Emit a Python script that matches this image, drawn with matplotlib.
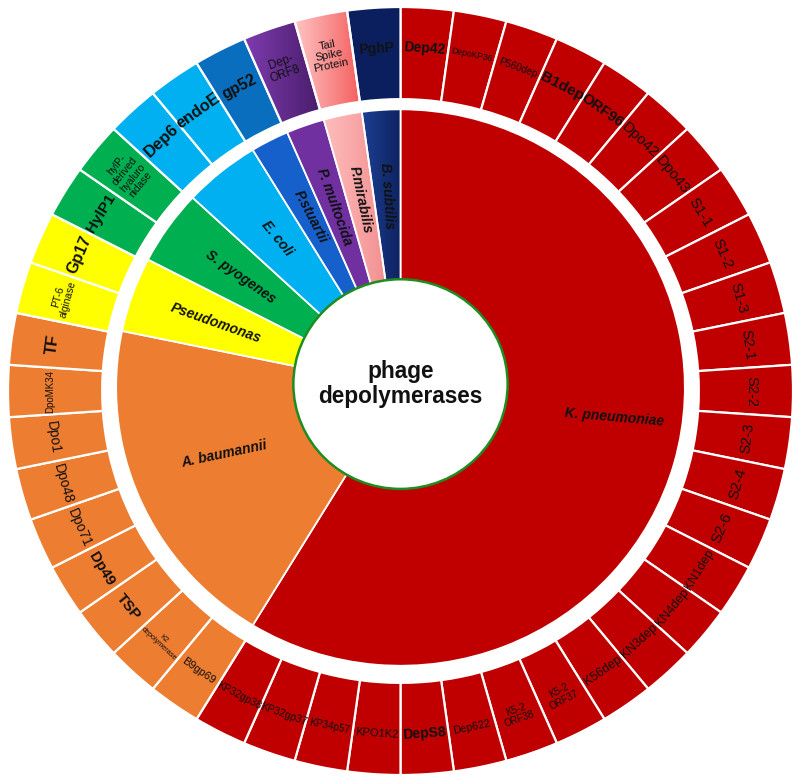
import matplotlib
matplotlib.use("Agg")
import matplotlib.pyplot as plt
from matplotlib.patches import Wedge, Circle
from matplotlib.colors import to_rgb
import numpy as np

plt.rcParams['font.family'] = ['Liberation Sans', 'DejaVu Sans']

# ---------------- data ----------------
species = ['K. pneumoniae', 'A. baumannii', 'Pseudomonas', 'S. pyogenes', 'E. coli',
           'P.stuartii', 'P. multocida', 'P.mirabilis', 'B. subtilis']

kp_enzymes = ['Dep42', 'DepoKP36', 'P560dep', 'B1dep', 'ORF96', 'Dpo42', 'Dpo43',
              'S1-1', 'S1-2', 'S1-3', 'S2-1', 'S2-2', 'S2-3', 'S2-4', 'S2-6',
              'KN1dep', 'KN4dep', 'KN3dep', 'K56dep', 'K5-2\nORF37', 'K5-2\nORF38',
              'Dep622', 'DepS8', 'KPO1K2', 'KP34p57', 'KP32gp37', 'KP32gp38']
ab_enzymes = ['B9gp69', 'K2\ndepolymerase', 'TSP', 'Dp49', 'Dpo71', 'Dpo48', 'Dpo1',
              'DpoMK34', 'TF']
ps_enzymes = ['PT-6\nalginase', 'Gp17']
sp_enzymes = ['HylP1', 'hylP-\nderived\nhyaluro\nnidase']
ec_enzymes = ['Dep6', 'endoE']
pst_enzymes = ['gp52']
pmu_enzymes = ['Dep-\nORF8']
pmi_enzymes = ['Tail\nSpike\nProtein']
bs_enzymes = ['PghP']

enzymes_by_species = [kp_enzymes, ab_enzymes, ps_enzymes, sp_enzymes, ec_enzymes,
                      pst_enzymes, pmu_enzymes, pmi_enzymes, bs_enzymes]

center_title = 'phage\ndepolymerases'

# ---------------- style ----------------
inner_colors = ['#C00000', '#ED7D31', '#FFFF00', '#00B050', '#00B0F0',
                '#1660CC', '#7030A0', ('#FFBDBD', '#F08585'), ('#1D3F92', '#0E2260')]
outer_colors = ['#C00000', '#ED7D31', '#FFFF00', '#00B050', '#00B0F0',
                '#0A6EBE', ('#7E3CAE', '#4A1D6C'), ('#FFC4C4', '#F45E5E'), '#0B1F5E']

outer_size = {'Dep42': 10, 'DepoKP36': 6.2, 'P560dep': 7.3, 'B1dep': 11, 'ORF96': 10.7,
              'Dpo42': 11, 'Dpo43': 11, 'S1-1': 11, 'S1-2': 10.8, 'S1-3': 10.8,
              'S2-1': 10.5, 'S2-2': 10.5, 'S2-3': 10.5, 'S2-4': 10.8, 'S2-6': 10.8,
              'KN1dep': 9, 'KN4dep': 9, 'KN3dep': 9, 'K56dep': 9,
              'K5-2\nORF37': 7, 'K5-2\nORF38': 7, 'Dep622': 7.8, 'DepS8': 10,
              'KPO1K2': 8, 'KP34p57': 7.2, 'KP32gp37': 7.5, 'KP32gp38': 7.5,
              'B9gp69': 7.9, 'K2\ndepolymerase': 5.2, 'TSP': 11, 'Dp49': 10.8,
              'Dpo71': 10, 'Dpo48': 10, 'Dpo1': 10, 'DpoMK34': 7, 'TF': 12,
              'PT-6\nalginase': 7.3, 'Gp17': 11.5, 'HylP1': 11,
              'hylP-\nderived\nhyaluro\nnidase': 7.3, 'Dep6': 12, 'endoE': 11.8,
              'gp52': 11.3, 'Dep-\nORF8': 8.5, 'Tail\nSpike\nProtein': 8, 'PghP': 10}
outer_bold = {'Dep42', 'B1dep', 'ORF96', 'DepS8', 'PghP', 'gp52', 'Dep6', 'endoE',
              'HylP1', 'Gp17', 'TF', 'TSP', 'Dp49'}
inner_rot_override = {'K. pneumoniae': -5, 'A. baumannii': 12}
# (angle clockwise from 12 o'clock, radius) for the two large inner labels
inner_pos_override = {'K. pneumoniae': (98, 0.55), 'A. baumannii': (249, 0.48)}

R_OUT, R_OUT_IN = 1.0, 0.760          # outer ring
R_IN_OUT, IN_DY = 0.7245, 0.009       # inner ring radius / small vertical offset
R_CENTER, C_DY = 0.273, 0.018         # centre disc
R_OUT_TEXT, R_IN_TEXT = 0.893, 0.50

# ---------------- figure ----------------
fig = plt.figure(figsize=(8.0, 7.83), dpi=100)
ax = fig.add_axes([0, 0, 1, 1])
ax.set_xlim(-400.5 / 392.5, (800 - 400.5) / 392.5)
ax.set_ylim(-(783 - 391) / 384, 391 / 384)
ax.axis('off')

total = sum(len(e) for e in enzymes_by_species)
step = 360.0 / total


def add_wedge(cy, r, width, t1, t2, color, lw):
    """t1, t2 : clockwise degrees from 12 o'clock."""
    a1, a2 = 90 - t2, 90 - t1
    if isinstance(color, tuple):
        w = Wedge((0, cy), r, a1, a2, width=width, facecolor='none',
                  edgecolor='white', linewidth=lw, zorder=3)
        ax.add_patch(w)
        c0, c1 = np.array(to_rgb(color[0])), np.array(to_rgb(color[1]))
        t = np.linspace(0, 1, 256)[None, :, None]
        img = c0 + (c1 - c0) * t
        angs = np.radians(np.linspace(a1, a2, 50))
        xs = np.concatenate([np.cos(angs) * (r - width), np.cos(angs) * r])
        ys = np.concatenate([np.sin(angs) * (r - width), np.sin(angs) * r]) + cy
        im = ax.imshow(img, extent=(xs.min(), xs.max(), ys.min(), ys.max()),
                       aspect='auto', zorder=2, interpolation='bilinear')
        im.set_clip_path(w)
    else:
        w = Wedge((0, cy), r, a1, a2, width=width, facecolor=color,
                  edgecolor='white', linewidth=lw, zorder=2)
        ax.add_patch(w)


def tang_rot(theta):
    return -theta if (theta <= 90 or theta >= 270) else 180 - theta


def radial_rot(theta):
    phi = (90 - theta) % 360
    if phi > 180:
        phi -= 360
    if phi > 90:
        phi -= 180
    if phi < -90:
        phi += 180
    return phi


idx = 0
for sp_name, enz, ci, co in zip(species, enzymes_by_species, inner_colors, outer_colors):
    start = idx * step
    end = (idx + len(enz)) * step
    add_wedge(IN_DY, R_IN_OUT, R_IN_OUT, start, end, ci, 1.3)
    mid = (start + end) / 2
    rot = inner_rot_override.get(sp_name, radial_rot(mid))
    ang, rad = inner_pos_override.get(sp_name, (mid, R_IN_TEXT))
    ax.text(rad * np.sin(np.radians(ang)), rad * np.cos(np.radians(ang)) + IN_DY,
            sp_name, rotation=rot, rotation_mode='anchor', ha='center', va='center',
            fontsize=10, fontstyle='italic', fontweight='bold', color='#111111',
            zorder=5)
    for j, name in enumerate(enz):
        t1 = (idx + j) * step
        t2 = t1 + step
        add_wedge(0, R_OUT, R_OUT - R_OUT_IN, t1, t2, co, 1.6)
        tm = (t1 + t2) / 2
        ax.text(R_OUT_TEXT * np.sin(np.radians(tm)), R_OUT_TEXT * np.cos(np.radians(tm)),
                name, rotation=tang_rot(tm), rotation_mode='anchor', ha='center',
                va='center', fontsize=outer_size.get(name, 10),
                fontweight='bold' if name in outer_bold else 'normal',
                color='#111111', linespacing=1.0, zorder=5)
    idx += len(enz)

ax.add_patch(Circle((0, C_DY), R_CENTER, facecolor='white', edgecolor='#1E8C1E',
                    linewidth=1.8, zorder=6))
ax.text(0, C_DY, center_title, ha='center', va='center', fontsize=16.3,
        fontweight='bold', color='#111111', linespacing=1.1, zorder=7)

fig.savefig('out.png', dpi=100)
